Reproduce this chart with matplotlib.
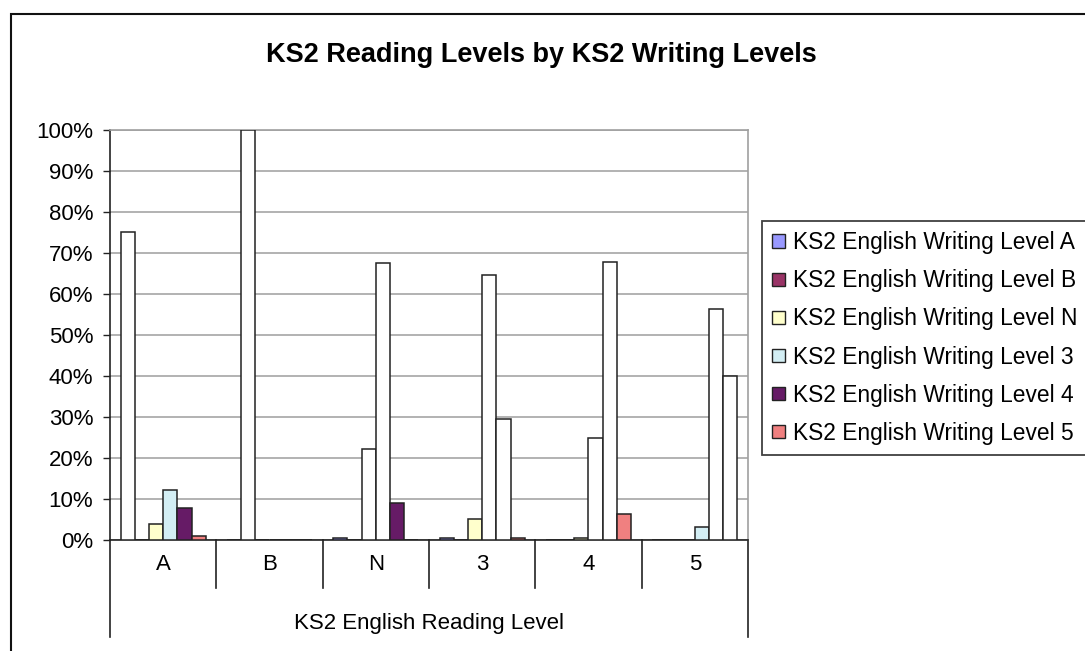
import numpy as np
import matplotlib
matplotlib.use('Agg')
import matplotlib.pyplot as plt
from matplotlib.patches import Rectangle, Patch

plt.rcParams['font.family'] = ['Liberation Sans', 'DejaVu Sans']

# reading levels (groups on the x axis)
reading_levels = ['A', 'B', 'N', '3', '4', '5']
# one series per writing level, values in % of pupils
series_names = ['KS2 English Writing Level A', 'KS2 English Writing Level B',
                'KS2 English Writing Level N', 'KS2 English Writing Level 3',
                'KS2 English Writing Level 4', 'KS2 English Writing Level 5']
writing_A = [75.0, 0.0, 0.4, 0.3, 0.0, 0.0]
writing_B = [0.0, 100.0, 0.0, 0.0, 0.0, 0.0]
writing_N = [3.9, 0.0, 22.1, 4.9, 0.3, 0.0]
writing_3 = [12.2, 0.0, 67.4, 64.7, 24.7, 3.0]
writing_4 = [7.8, 0.0, 9.0, 29.4, 67.8, 56.4]
writing_5 = [0.9, 0.0, 0.0, 0.3, 6.3, 40.0]
all_series = [writing_A, writing_B, writing_N, writing_3, writing_4, writing_5]
colors = ['#9999FF', '#993366', '#FFFFCC', '#D3EEF4', '#661B66', '#F08080']

W, H = 1085, 651
fig = plt.figure(figsize=(W / 100, H / 100), dpi=100)
ax = fig.add_axes([110 / W, 1 - 539.5 / H, (748 - 110) / W, (539.5 - 130) / H])

# outer chart frame (cut off at right and bottom in the original)
fig.patches.append(Rectangle((11 / W, -0.1), 1.2, 1 - 14 / H + 0.1,
                             transform=fig.transFigure, fill=False,
                             edgecolor='#111111', linewidth=1.5, zorder=0))

x = np.arange(len(reading_levels))
n = len(all_series)
w = 1 / (n + 1.5)
for k, vals in enumerate(all_series):
    vals = np.array(vals)
    # the big bars come out with a white fill in the source picture
    fills = [('white' if v > 15 else colors[k]) for v in vals]
    ax.bar(x + (k - (n - 1) / 2) * w, vals, width=w, color=fills,
           edgecolor='#222222', linewidth=1.1, zorder=3)

fs = 16
ax.set_xlim(-0.5, len(reading_levels) - 0.5)
ax.set_ylim(0, 100)
ax.set_yticks(np.arange(0, 101, 10))
ax.set_yticklabels(['{}%'.format(v) for v in range(0, 101, 10)], fontsize=fs)
ax.tick_params(axis='y', direction='out', length=5, width=1, color='#222222', pad=7)
ax.set_xticks([])
ax.grid(axis='y', color='#A6A6A6', linewidth=1.2, zorder=0)
ax.set_axisbelow(True)
for s in ['top', 'right']:
    ax.spines[s].set_color('#A0A0A0')
    ax.spines[s].set_linewidth(1.2)
for s in ['left', 'bottom']:
    ax.spines[s].set_color('#222222')
    ax.spines[s].set_linewidth(1.2)

# two-level category axis drawn underneath
trans = ax.get_xaxis_transform()
px = 1 / (539.5 - 130)
for i in range(len(reading_levels) + 1):
    edge = i - 0.5
    bottom = -(637 - 539.5) * px if i in (0, len(reading_levels)) else -(588 - 539.5) * px
    ax.plot([edge, edge], [0, bottom], transform=trans, color='#222222',
            linewidth=1.2, clip_on=False)
for i, lab in enumerate(reading_levels):
    ax.text(i, -(565 - 539.5) * px, lab, transform=trans, ha='center',
            va='center', fontsize=fs)
ax.text((len(reading_levels) - 1) / 2, -(623 - 539.5) * px,
        'KS2 English Reading Level', transform=trans, ha='center',
        va='center', fontsize=fs)

fig.text(541 / W, 1 - 55 / H, 'KS2 Reading Levels by KS2 Writing Levels',
         ha='center', va='center', fontsize=19.5, fontweight='bold')

handles = [Patch(facecolor=c, edgecolor='#222222', linewidth=1) for c in colors]
leg = fig.legend(handles, series_names, loc='center left',
                 bbox_to_anchor=(762 / W, 1 - 338 / H), fontsize=16.4,
                 frameon=True, fancybox=False, edgecolor='#111111',
                 handlelength=0.55, handleheight=0.55, handletextpad=0.35,
                 labelspacing=0.66, borderpad=0.45, borderaxespad=0)
leg.get_frame().set_linewidth(1.3)

fig.savefig('out.png', dpi=100)
